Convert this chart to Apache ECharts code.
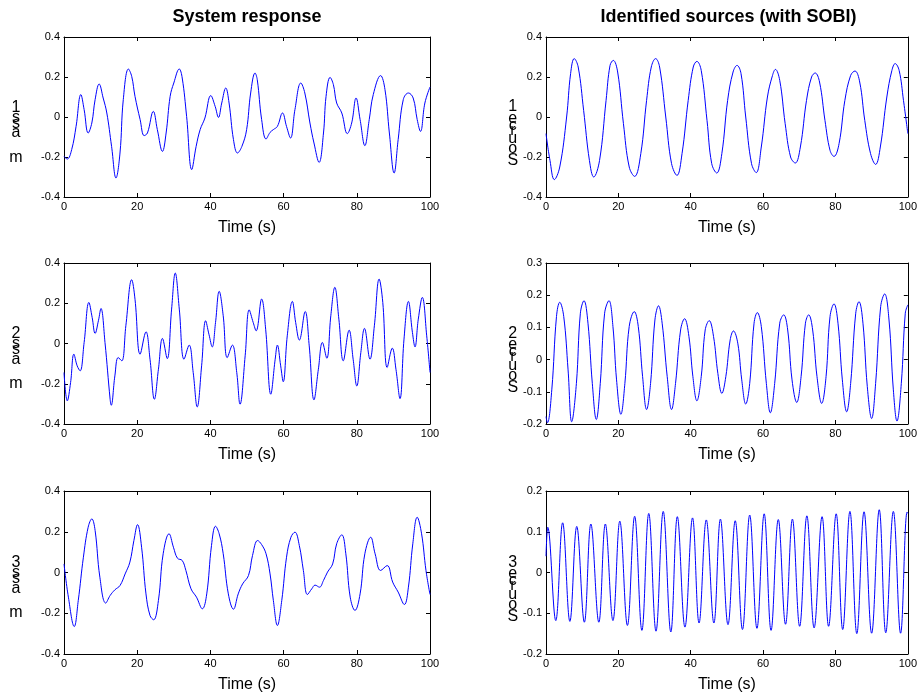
<!DOCTYPE html>
<html><head><meta charset="utf-8">
<script src="https://cdn.jsdelivr.net/npm/echarts@6/dist/echarts.min.js"></script>
<style>html,body{margin:0;padding:0;background:#fff}#c{width:920px;height:697px}</style>
</head><body><div id="c"></div>
<script>
// ---- data (time in s, amplitude) ----
const titles = ['System response', 'Identified sources (with SOBI)'];
const xTicks = [0, 20, 40, 60, 80, 100];
const mass1 = [[0,-0.197],[0.9,-0.21],[2.1,-0.163],[3.3,-0.047],[4.6,0.112],[5.5,0.037],[6.6,-0.08],[7.6,-0.03],[8.5,0.087],[9.6,0.165],[10.7,0.095],[11.7,0.02],[13.0,-0.147],[14.2,-0.305],[15.3,-0.18],[16.2,0.087],[17.6,0.24],[18.5,0.203],[19.4,0.103],[20.8,-0.013],[21.9,-0.093],[22.8,-0.08],[24.4,0.028],[25.5,-0.063],[26.9,-0.172],[27.9,-0.08],[29.0,0.103],[30.0,0.17],[31.5,0.24],[32.3,0.195],[33.5,0.003],[34.9,-0.263],[36.1,-0.147],[37.2,-0.063],[38.5,-0.005],[40.1,0.107],[41.3,0.053],[42.2,-0.002],[43.1,0.07],[44.2,0.145],[45.1,0.07],[46.3,-0.113],[47.4,-0.18],[48.6,-0.147],[49.9,-0.063],[51.0,0.12],[52.2,0.22],[52.8,0.187],[54.0,-0.013],[55.2,-0.11],[56.3,-0.077],[57.2,-0.063],[58.3,-0.047],[59.7,0.02],[60.8,-0.047],[61.9,-0.105],[63.1,0.037],[64.7,0.17],[65.8,0.12],[67.2,-0.03],[68.3,-0.13],[69.7,-0.227],[70.9,-0.08],[71.6,0.103],[72.7,0.198],[73.6,0.162],[74.5,0.07],[75.9,0.02],[77.4,-0.083],[78.6,-0.03],[79.8,0.095],[80.9,-0.013],[82.2,-0.143],[83.4,-0.013],[84.5,0.112],[86.5,0.207],[87.7,0.137],[88.9,-0.08],[90.2,-0.28],[91.3,-0.113],[92.7,0.087],[94.1,0.12],[95.4,0.095],[96.5,-0.013],[97.4,-0.072],[98.6,0.07],[100,0.15]];
const mass2 = [[0,-0.144],[0.9,-0.285],[1.8,-0.194],[2.7,-0.053],[3.6,-0.111],[4.4,-0.136],[5.5,0.005],[6.8,0.204],[7.7,0.129],[8.5,0.05],[9.4,0.113],[10.1,0.174],[11.2,0.005],[12.6,-0.277],[12.9,-0.307],[13.9,-0.161],[14.8,-0.07],[15.8,-0.086],[16.9,0.088],[18.5,0.317],[19.4,0.22],[20.8,-0.053],[22.4,0.058],[23.5,-0.078],[24.7,-0.277],[25.8,-0.128],[26.9,0.025],[28.2,-0.075],[29.4,0.171],[30.4,0.35],[31.5,0.171],[32.8,-0.078],[34.2,-0.008],[35.3,-0.144],[36.4,-0.315],[37.6,-0.111],[38.7,0.113],[39.6,0.046],[40.5,-0.017],[41.4,0.104],[42.4,0.259],[43.5,0.138],[44.6,-0.07],[46.0,-0.008],[47.2,-0.144],[48.1,-0.302],[49.5,-0.061],[50.6,0.167],[51.7,0.104],[52.5,0.063],[54.0,0.221],[55.1,0.071],[56.5,-0.252],[57.7,-0.078],[58.3,-0.008],[59.2,-0.111],[59.9,-0.19],[61.0,0.038],[62.4,0.209],[63.3,0.104],[64.3,0.017],[65.9,0.159],[67.0,-0.012],[68.3,-0.28],[69.5,-0.128],[70.6,0.005],[71.8,-0.073],[72.9,0.138],[74.0,0.279],[75.1,0.121],[76.3,-0.086],[77.9,0.066],[79.0,-0.078],[80.0,-0.211],[81.1,-0.045],[82.1,0.075],[83.6,-0.078],[84.8,0.088],[86.1,0.32],[87.1,0.204],[88.3,-0.119],[89.7,-0.023],[90.7,-0.128],[91.8,-0.274],[92.9,0.022],[94.1,0.209],[95.2,0.055],[95.9,-0.017],[96.8,0.121],[97.9,0.229],[99.1,0.038],[100,-0.144]];
const mass3 = [[0,0.042],[1.2,-0.121],[2.8,-0.265],[3.9,-0.137],[5.3,0.075],[6.6,0.222],[7.6,0.263],[8.5,0.206],[9.8,-0.023],[11.4,-0.15],[12.6,-0.113],[13.9,-0.085],[15.3,-0.064],[16.7,-0.007],[18.0,0.051],[19.1,0.157],[20.1,0.235],[21.2,0.124],[22.4,-0.105],[23.5,-0.211],[24.5,-0.232],[25.8,-0.137],[27.1,0.092],[28.7,0.19],[29.9,0.124],[31.0,0.07],[32.3,0.059],[33.3,0.01],[34.7,-0.08],[36.2,-0.121],[37.8,-0.178],[39.0,-0.105],[40.3,0.132],[41.4,0.227],[42.4,0.19],[43.5,0.092],[44.9,-0.105],[46.3,-0.18],[47.6,-0.105],[48.8,-0.056],[50.4,-0.015],[51.5,0.083],[52.9,0.157],[54.0,0.137],[55.2,0.092],[56.3,-0.007],[57.2,-0.137],[58.3,-0.26],[59.5,-0.137],[60.8,0.075],[62.0,0.173],[63.1,0.198],[64.3,0.132],[65.4,0.01],[66.5,-0.108],[67.7,-0.08],[68.6,-0.062],[69.8,-0.072],[70.9,-0.039],[72.0,0.002],[73.4,0.042],[74.5,0.141],[75.9,0.185],[77.0,0.092],[78.2,-0.121],[79.5,-0.186],[80.9,-0.105],[82.2,0.092],[83.8,0.173],[85.0,0.092],[86.5,0.01],[88.3,0.034],[89.8,-0.047],[91.3,-0.096],[93.0,-0.157],[94.1,-0.072],[95.3,0.141],[96.5,0.271],[97.7,0.19],[98.9,0.01],[100,-0.108]];
const source1 = [[0,-0.083],[1.1,-0.217],[2.3,-0.313],[3.8,-0.25],[5.7,0.0],[6.8,0.217],[7.8,0.292],[8.9,0.25],[10.4,0.033],[12.0,-0.217],[13.2,-0.3],[14.8,-0.217],[16.6,0.083],[17.7,0.258],[18.6,0.283],[19.8,0.225],[21.4,-0.033],[23.0,-0.25],[24.5,-0.297],[26.2,-0.183],[27.8,0.083],[29.1,0.25],[30.3,0.292],[31.4,0.25],[33.1,0.0],[34.7,-0.233],[36.2,-0.292],[37.6,-0.183],[39.3,0.083],[40.7,0.25],[41.7,0.278],[42.9,0.233],[44.5,-0.017],[45.8,-0.233],[47.2,-0.28],[48.6,-0.183],[50.2,0.083],[51.7,0.225],[52.8,0.258],[53.9,0.217],[55.2,0.0],[56.8,-0.233],[58.1,-0.278],[59.5,-0.15],[61.2,0.1],[62.6,0.208],[63.4,0.238],[64.6,0.183],[66.1,-0.033],[67.6,-0.2],[68.9,-0.23],[70.3,-0.15],[72.0,0.083],[73.4,0.2],[74.4,0.22],[75.6,0.175],[77.1,-0.017],[78.5,-0.167],[79.6,-0.197],[81.0,-0.133],[82.6,0.083],[84.2,0.208],[85.4,0.23],[86.7,0.175],[88.1,-0.017],[89.7,-0.183],[91.1,-0.237],[92.4,-0.15],[94.2,0.1],[95.6,0.233],[96.5,0.267],[97.6,0.233],[98.8,0.083],[100,-0.083]];
const source2 = [[0,-0.177],[0.4,-0.196],[1.6,-0.094],[2.9,0.134],[3.8,0.178],[4.9,0.134],[6.1,-0.032],[7.1,-0.193],[8.4,-0.074],[9.5,0.144],[10.5,0.183],[11.6,0.113],[12.8,-0.074],[13.9,-0.186],[15.0,-0.074],[16.2,0.144],[17.4,0.183],[18.5,0.103],[19.5,-0.063],[20.7,-0.17],[21.8,-0.074],[23.0,0.103],[24.4,0.149],[25.5,0.103],[26.7,-0.053],[27.8,-0.155],[28.9,-0.074],[30.1,0.123],[31.1,0.167],[32.1,0.113],[33.5,-0.053],[34.7,-0.155],[35.8,-0.074],[37.2,0.092],[38.3,0.127],[39.5,0.072],[40.6,-0.053],[41.7,-0.128],[42.9,-0.053],[44.0,0.092],[45.1,0.121],[46.3,0.072],[47.5,-0.043],[48.6,-0.105],[49.7,-0.053],[50.9,0.061],[51.8,0.089],[53.0,0.051],[54.1,-0.063],[55.2,-0.138],[56.3,-0.074],[57.5,0.113],[58.4,0.146],[59.5,0.103],[60.9,-0.074],[62.0,-0.165],[63.2,-0.074],[64.6,0.113],[65.7,0.139],[66.8,0.092],[68.0,-0.063],[69.3,-0.133],[70.5,-0.053],[71.7,0.113],[72.6,0.139],[73.7,0.092],[74.9,-0.053],[76.2,-0.136],[77.4,-0.053],[78.5,0.134],[79.6,0.173],[80.7,0.113],[81.9,-0.063],[83.1,-0.162],[84.2,-0.074],[85.6,0.144],[86.5,0.18],[87.6,0.113],[88.8,-0.084],[90.0,-0.183],[91.1,-0.074],[92.5,0.165],[93.6,0.204],[94.8,0.123],[96.0,-0.094],[97.0,-0.191],[98.2,-0.074],[99.3,0.144],[100,0.17]];
const source3 = [[0,0.04],[0.5,0.111],[2.7,-0.118],[4.6,0.122],[6.6,-0.12],[8.5,0.113],[10.6,-0.122],[12.4,0.119],[14.6,-0.122],[16.4,0.119],[18.5,-0.118],[20.4,0.126],[22.5,-0.13],[24.5,0.138],[26.5,-0.142],[28.4,0.145],[30.4,-0.144],[32.4,0.15],[34.5,-0.146],[36.3,0.137],[38.4,-0.134],[40.5,0.134],[42.3,-0.124],[44.3,0.129],[46.4,-0.124],[48.2,0.131],[50.3,-0.128],[52.3,0.127],[54.3,-0.14],[56.3,0.141],[58.3,-0.137],[60.3,0.144],[62.2,-0.142],[64.2,0.13],[66.2,-0.127],[68.1,0.131],[70.1,-0.132],[72.1,0.139],[74.1,-0.136],[76.3,0.137],[78.1,-0.132],[80.2,0.144],[82.0,-0.14],[84.0,0.15],[85.9,-0.15],[87.9,0.149],[90.0,-0.149],[92.1,0.154],[93.9,-0.148],[96.0,0.15],[98.0,-0.149],[99.8,0.148],[100,0.145]];
const yRanges = [[-0.4,0.4,0.2],[-0.4,0.4,0.2],[-0.4,0.4,0.2],[-0.4,0.4,0.2],[-0.2,0.3,0.1],[-0.2,0.2,0.1]];
const seriesData = [mass1, mass2, mass3, source1, source2, source3];
const yNames = ['mass 1','mass 2','mass 3','Source 1','Source 2','Source 3'];

// ---- layout ----
const FONT = '"Liberation Sans", Arial, sans-serif';
const colLeft = [64, 546], colWidth = [366, 365];
const rowTop = [37, 263, 491], rowHeight = [160, 161, 163];

function stackedName(i) {
  const n = yNames[i].slice(-1);
  if (i < 3) return `{n|${n}}\n{s|s}\n{s|s}\n{a|a}\n{m|m}`;
  return `{n|${n}}\n{e|e}\n{c|c}\n{r|r}\n{u|u}\n{o|o}\n{S|S}`;
}
const richL = {n:{lineHeight:14},s:{lineHeight:6},a:{lineHeight:13},m:{lineHeight:36}};
const richR = {n:{lineHeight:14},e:{lineHeight:9},c:{lineHeight:5},r:{lineHeight:5},u:{lineHeight:12},o:{lineHeight:8},S:{lineHeight:16}};

const grids = [], xAxes = [], yAxes = [], series = [];
for (let i = 0; i < 6; i++) {
  const col = i < 3 ? 0 : 1, row = i % 3;
  grids.push({left: colLeft[col], top: rowTop[row], width: colWidth[col], height: rowHeight[row], containLabel: false});
  const lineStyle = {color: '#000', width: 1};
  const tick = {show: true, inside: true, length: 4, lineStyle};
  xAxes.push({type: 'value', gridIndex: i, position: 'bottom', min: xTicks[0], max: xTicks[xTicks.length-1], interval: 20,
    axisLine: {show: true, onZero: false, lineStyle}, axisTick: tick, splitLine: {show: false},
    axisLabel: {color: '#000', fontSize: 11, fontFamily: FONT, margin: 4},
    name: 'Time (s)', nameLocation: 'middle', nameGap: 31,
    nameTextStyle: {color: '#000', fontSize: 16, fontFamily: FONT, align: 'center', verticalAlign: 'middle'}});
  xAxes.push({type: 'value', gridIndex: i, position: 'top', min: 0, max: 100, interval: 20,
    axisLine: {show: true, onZero: false, lineStyle}, axisTick: tick, axisLabel: {show: false}, splitLine: {show: false}});
  const [ymin, ymax, yint] = yRanges[i];
  yAxes.push({type: 'value', gridIndex: i, position: 'left', min: ymin, max: ymax, interval: yint,
    axisLine: {show: true, onZero: false, lineStyle}, axisTick: tick, splitLine: {show: false},
    axisLabel: {color: '#000', fontSize: 11, fontFamily: FONT, margin: 4},
    name: stackedName(i), nameLocation: 'middle', nameRotate: 0, nameGap: col === 0 ? 48 : 29,
    nameTextStyle: {color: '#000', fontSize: 16, fontFamily: FONT, align: 'center', verticalAlign: 'middle',
      padding: col === 0 ? [42,0,0,0] : [35,0,0,0], rich: col === 0 ? richL : richR}});
  yAxes.push({type: 'value', gridIndex: i, position: 'right', min: ymin, max: ymax, interval: yint,
    axisLine: {show: true, onZero: false, lineStyle}, axisTick: tick, axisLabel: {show: false}, splitLine: {show: false}});
  series.push({type: 'line', xAxisIndex: 2*i, yAxisIndex: 2*i, data: seriesData[i], showSymbol: false, smooth: 0.4,
    lineStyle: {color: '#0000ff', width: 1}, itemStyle: {color: '#0000ff'}, silent: true, animation: false, clip: true});
}

const chart = echarts.init(document.getElementById('c'), null, {renderer: 'canvas'});
chart.setOption({
  backgroundColor: '#fff',
  animation: false,
  title: [
    {text: titles[0], left: colLeft[0] + colWidth[0]/2, top: 8, textAlign: 'center', padding: 0,
     textStyle: {fontSize: 18, fontWeight: 'bold', color: '#000', fontFamily: FONT}},
    {text: titles[1], left: colLeft[1] + colWidth[1]/2, top: 8, textAlign: 'center', padding: 0,
     textStyle: {fontSize: 18, fontWeight: 'bold', color: '#000', fontFamily: FONT}}
  ],
  grid: grids, xAxis: xAxes, yAxis: yAxes, series: series
});
</script></body></html>
